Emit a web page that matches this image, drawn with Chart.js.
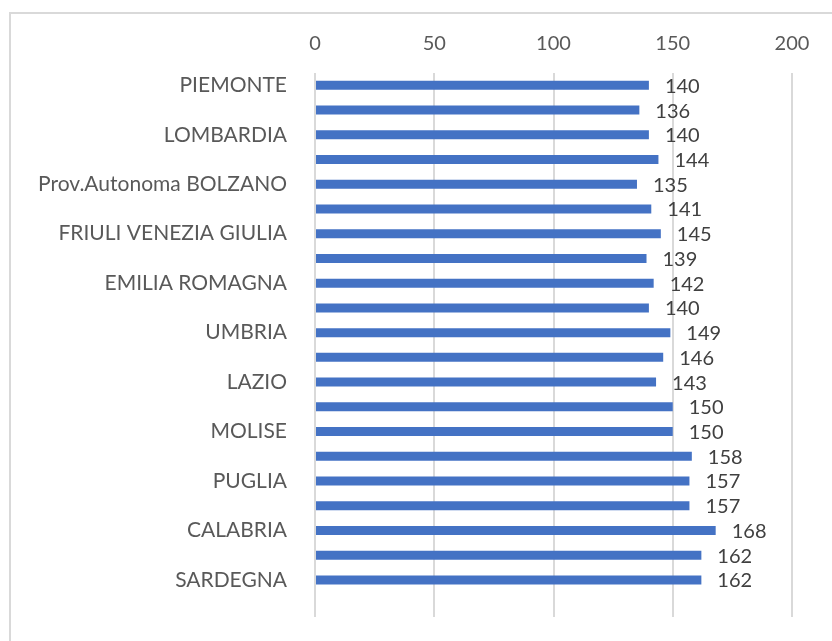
<!DOCTYPE html>
<html>
<head>
<meta charset="utf-8">
<script src="https://cdn.jsdelivr.net/npm/chart.js@4"></script>
<style>
  html, body { margin: 0; padding: 0; background: #fff; }
  #wrap { position: relative; width: 832px; height: 641px; }
  #frame { position: absolute; left: 9px; top: 12px; width: 900px; height: 700px;
           border-top: 2px solid #d9d9d9; border-left: 2px solid #d9d9d9; box-sizing: border-box; }
  canvas { position: absolute; left: 0; top: 0; }
</style>
</head>
<body>
<div id="wrap">
  <div id="frame"></div>
  <canvas id="chartCanvas" width="832" height="641"></canvas>
</div>
<script>
// regions (every other label shown, as in the original)
const regions = [
    'PIEMONTE', "VALLE D'AOSTA", 'LOMBARDIA', 'Prov.Autonoma TRENTO',
    'Prov.Autonoma BOLZANO', 'VENETO', 'FRIULI VENEZIA GIULIA', 'LIGURIA',
    'EMILIA ROMAGNA', 'TOSCANA', 'UMBRIA', 'MARCHE', 'LAZIO', 'ABRUZZO',
    'MOLISE', 'CAMPANIA', 'PUGLIA', 'BASILICATA', 'CALABRIA', 'SICILIA',
    'SARDEGNA', ''
];
const values = [140, 136, 140, 144, 135, 141, 145, 139, 142, 140, 149,
    146, 143, 150, 150, 158, 157, 157, 168, 162, 162, null];
const xTicks = [0, 50, 100, 150, 200];

const FONT = 'Lato';

// value labels to the right of each bar
const barLabels = {
    id: 'barLabels',
    afterDatasetsDraw(chart) {
        const ctx = chart.ctx;
        const meta = chart.getDatasetMeta(0);
        ctx.save();
        ctx.font = '20px "' + FONT + '"';
        ctx.fillStyle = '#404040';
        ctx.textAlign = 'left';
        ctx.textBaseline = 'middle';
        meta.data.forEach((bar, i) => {
            if (values[i] == null) return;
            ctx.fillText(String(values[i]), bar.x + 16, bar.y + 1);
        });
        ctx.restore();
    }
};

function initializeChart() {
    const ctx = document.getElementById('chartCanvas').getContext('2d');
    new Chart(ctx, {
        type: 'bar',
        data: {
            labels: regions,
            datasets: [{
                data: values,
                backgroundColor: '#4472C4',
                borderWidth: 0,
                barPercentage: 0.7,
                categoryPercentage: 0.52
            }]
        },
        options: {
            indexAxis: 'y',
            responsive: false,
            animation: false,
            layout: { padding: { left: 20, right: 40, top: 20, bottom: 24 } },
            plugins: { legend: { display: false }, tooltip: { enabled: false } },
            scales: {
                x: {
                    position: 'top',
                    min: 0,
                    max: 200,
                    afterBuildTicks: (scale) => { scale.ticks = xTicks.map(v => ({ value: v })); },
                    afterFit: (scale) => { scale.height = 53; },
                    grid: { color: '#d9d9d9', lineWidth: 2, drawTicks: false },
                    border: { display: false },
                    ticks: { color: '#595959', font: { family: FONT, size: 20 }, padding: 17 }
                },
                y: {
                    afterFit: (scale) => {
                        scale.width = 295;
                        scale.paddingTop = 0;
                        scale.paddingBottom = 0;
                    },
                    grid: { display: false },
                    border: { display: false },
                    ticks: {
                        autoSkip: false,
                        color: '#595959',
                        font: { family: FONT, size: 21 },
                        padding: 20,
                        callback: function (v, i) { return i % 2 === 0 ? this.getLabelForValue(v) : ''; }
                    }
                }
            }
        },
        plugins: [barLabels]
    });
}

initializeChart();
</script>
</body>
</html>
